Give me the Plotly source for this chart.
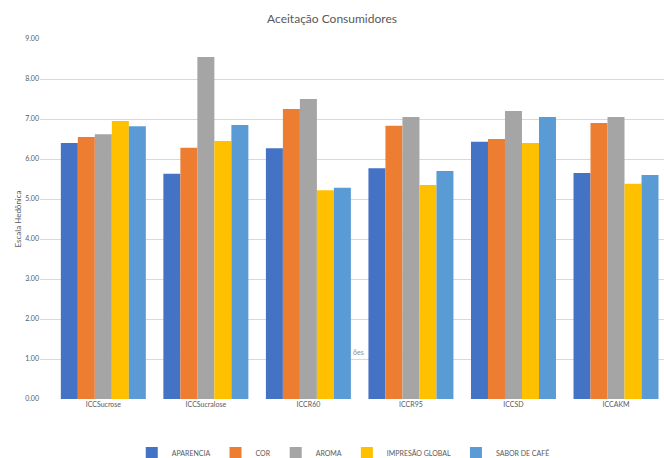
import plotly.graph_objects as go

categories = ["ICCSucrose", "ICCSucralose", "ICCR60", "ICCR95", "ICCSD", "ICCAKM"]
series_names = ["APARENCIA", "COR", "AROMA", "IMPRESÃO GLOBAL", "SABOR DE CAFÉ"]
aparencia = [6.40, 5.63, 6.27, 5.77, 6.43, 5.65]
cor = [6.55, 6.28, 7.25, 6.83, 6.50, 6.90]
aroma = [6.62, 8.55, 7.50, 7.05, 7.20, 7.05]
impressao = [6.95, 6.45, 5.22, 5.35, 6.40, 5.38]
sabor = [6.82, 6.85, 5.28, 5.70, 7.05, 5.60]
colors = ["#4472C4", "#ED7D31", "#A5A5A5", "#FFC000", "#5B9BD5"]
y_ticks = [0, 1, 2, 3, 4, 5, 6, 7, 8, 9]

fig = go.Figure()
for name, vals, col in zip(series_names, [aparencia, cor, aroma, impressao, sabor], colors):
    fig.add_trace(go.Bar(x=categories, y=vals, name=name, marker=dict(color=col, line=dict(width=0))))

fig.update_layout(
    width=664, height=458,
    margin=dict(l=40, r=0, t=39, b=59, autoexpand=False),
    paper_bgcolor="white", plot_bgcolor="white",
    font=dict(family="Lato, Open Sans, sans-serif", color="#595959", size=7),
    title=dict(text="Aceitação Consumidores", x=0.5, xanchor="center", y=0.958, yanchor="middle",
               font=dict(size=12, color="#595959")),
    barmode="group", bargap=0.171, bargroupgap=0,
    showlegend=True,
    legend=dict(orientation="h", x=0.486, xanchor="center", yref="container", y=0.011, yanchor="middle",
                font=dict(size=7, color="#595959"), itemwidth=30, tracegroupgap=0),
    xaxis=dict(range=[-0.6176, 5.468], showgrid=False, showline=False, ticks="", automargin=False,
               tickfont=dict(size=7, color="#595959")),
    yaxis=dict(range=[0, 9], tickvals=y_ticks, tickformat=".2f", showgrid=True, gridcolor="#D9D9D9",
               gridwidth=1, zeroline=False, showline=False, ticks="", automargin=False,
               tickfont=dict(size=7, color="#595959"),
               title=dict(text="Escala Hedônica", font=dict(size=8, color="#595959"), standoff=2)),
)
fig.add_annotation(text="ões", x=0.51, y=0.114, xref="paper", yref="paper", showarrow=False,
                   font=dict(size=7, color="#8c8c8c"))
fig.write_html("out.html")
